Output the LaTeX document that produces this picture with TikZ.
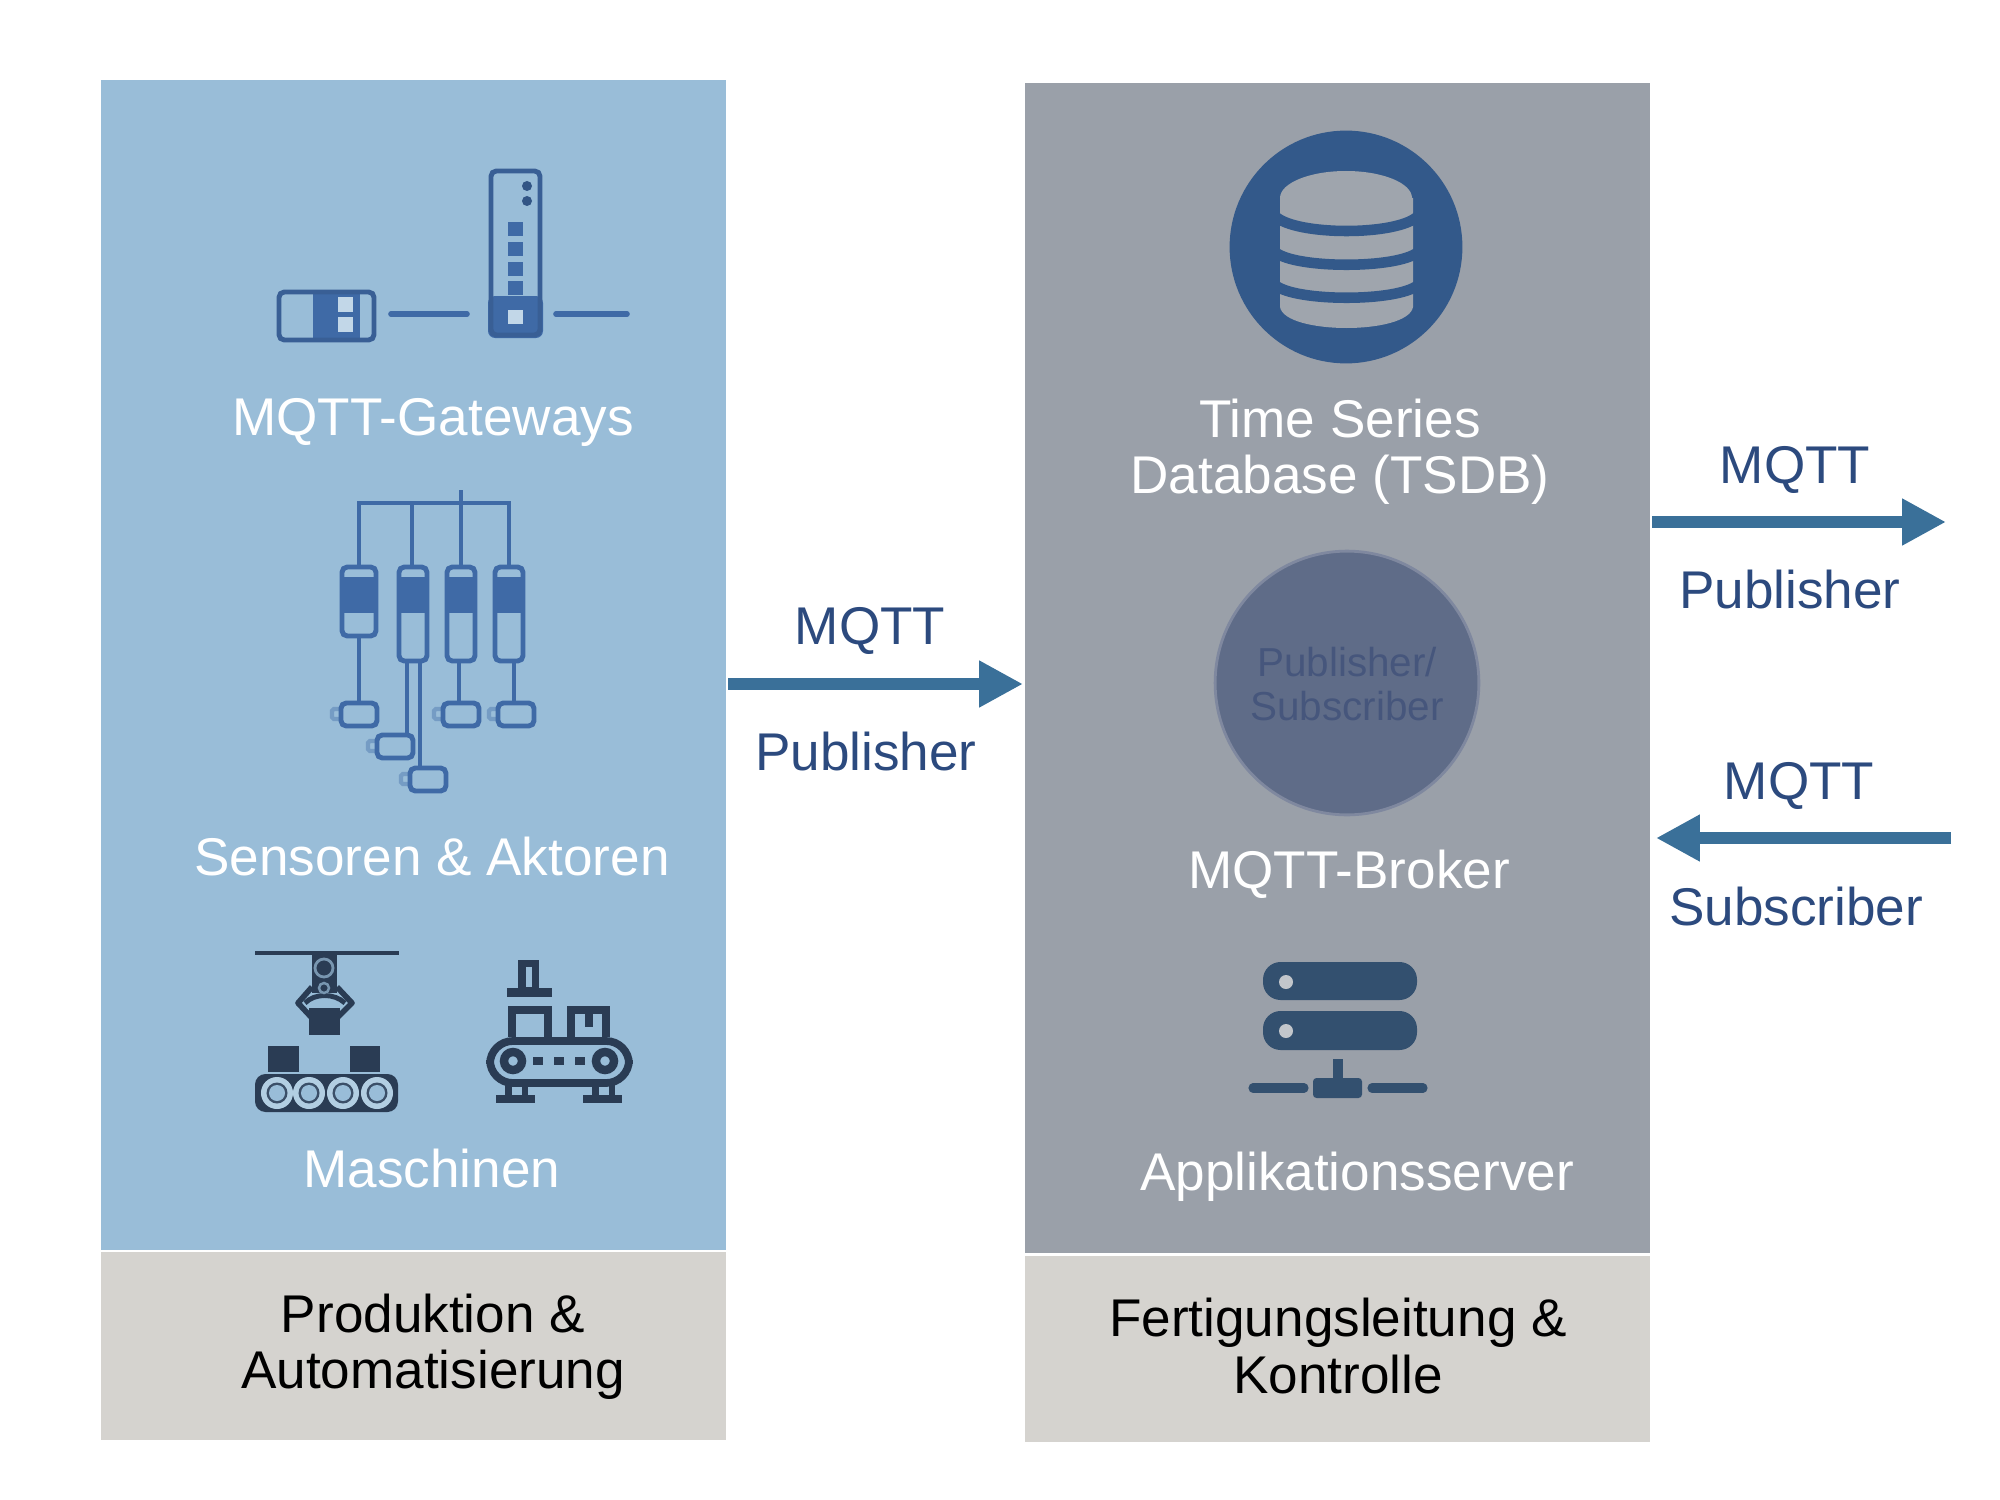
\documentclass[tikz,border=0pt]{standalone}
\usepackage{fontspec}
\setmainfont{Liberation Sans}
\usepackage{xcolor}
\usepackage{tikz}
\usetikzlibrary{arrows.meta}
\usetikzlibrary{positioning}
\definecolor{panelblue}{HTML}{99BDD8}
\definecolor{panelgrey}{HTML}{9AA0A9}
\definecolor{footgrey}{HTML}{D5D3CF}
\definecolor{iconblue}{HTML}{3F6AA6}
\definecolor{icondark}{HTML}{2A3C54}
\definecolor{dbblue}{HTML}{33598A}
\definecolor{srvblue}{HTML}{33506F}
\definecolor{brokerfill}{HTML}{5F6C88}
\definecolor{brokerline}{HTML}{7F889F}
\definecolor{brokertext}{HTML}{46567C}
\definecolor{labelblue}{HTML}{2C4A7E}
\definecolor{arrowblue}{HTML}{3A7099}
\tikzset{>=latex}
\tikzstyle{whitetext} = [text=white, align=center, inner sep=0pt, font=\fontsize{15.1}{16}\selectfont]
\tikzstyle{blacktext} = [text=black, align=center, inner sep=0pt, font=\fontsize{15.1}{16}\selectfont]
\tikzstyle{bluetext} = [text=labelblue, align=center, inner sep=0pt, font=\fontsize{15.1}{16}\selectfont]
\tikzstyle{mqttarrow} = [draw=arrowblue, line width=3.6pt, -{Triangle[length=12.5pt, width=12.5pt, fill=arrowblue]}]
\tikzstyle{iconline} = [draw=iconblue, line width=1.4pt, rounded corners=1.5pt]
\begin{document}
\begin{tikzpicture}[x=.01cm, y=-.01cm]
\useasboundingbox (0, 0) rectangle (2000, 1500);
% panels
\fill [panelblue] (101, 80) rectangle (726, 1250);
\fill [footgrey] (101, 1252) rectangle (726, 1440);
\fill [panelgrey] (1025, 83) rectangle (1650, 1253);
\fill [footgrey] (1025, 1256) rectangle (1650, 1442);
% gateways
\fill [iconblue] (313, 292) rectangle (360, 340);
\fill [panelblue!60!white] (338, 297) rectangle (353, 312);
\fill [panelblue!60!white] (338, 317) rectangle (353, 332);
\draw [iconline, draw=iconblue!90!black] (279, 292) rectangle (374, 340);
\draw [iconline, line cap=round, line width=1.6pt] (391, 314) -- (467, 314);
\fill [iconblue, rounded corners=2pt] (488, 296) rectangle (543, 338);
\fill [panelblue!60!white] (508, 310) rectangle (523, 324);
\draw [iconline, draw=iconblue!90!black] (491, 171) rectangle (540, 335);
\fill [iconblue!80!black] (527, 186) circle [radius=.05cm];
\fill [iconblue!80!black] (527, 201) circle [radius=.05cm];
\foreach \y in {222, 242, 262, 281} {
  \fill [iconblue] (508, \y) rectangle (523, \y+14);
}
\draw [iconline, line cap=round, line width=1.6pt] (556, 314) -- (627, 314);
% sensors and actuators
\draw [iconline, rounded corners=0pt] (359, 565) -- (359, 503) -- (509, 503) -- (509, 565);
\draw [iconline] (412, 503) -- (412, 565);
\draw [iconline] (461, 490) -- (461, 565);
\foreach \xa/\xb/\yb in {342/376/636, 399/427/661, 447/475/661, 495/523/661} {
  \fill [iconblue] (\xa, 577) rectangle (\xb, 613);
  \draw [iconline] (\xa, 567) rectangle (\xb, \yb);
}
\draw [iconline] (359, 636) -- (359, 702);
\draw [iconline] (407, 661) -- (407, 734);
\draw [iconline] (420, 661) -- (420, 767);
\draw [iconline] (459, 661) -- (459, 702);
\draw [iconline] (514, 661) -- (514, 702);
\foreach \xa/\ya in {341/703, 377/735, 410/768, 443/703, 498/703} {
  \draw [draw=panelblue!60!iconblue, line width=1.2pt, rounded corners=.5pt] (\xa-1, \ya+6) -- (\xa-9, \ya+6) -- (\xa-9, \ya+16) -- (\xa-1, \ya+16);
  \draw [iconline] (\xa, \ya) rectangle (\xa+36, \ya+23);
}
% gripper machine
\draw [draw=icondark, line width=1.2pt] (255, 953) -- (399, 953);
\fill [icondark] (312, 953) rectangle (337, 993);
\draw [draw=icondark, line width=1.6pt, line join=round] (312, 987) -- (298, 1003) -- (312, 1018);
\draw [draw=icondark, line width=1.6pt, line join=round] (337, 987) -- (352, 1003) -- (337, 1018);
\draw [draw=icondark, line width=1.4pt] (305, 1003) .. controls (315, 993) and (334, 993) .. (345, 1003);
\draw [draw=panelblue!70!icondark, line width=.8pt] (324, 968) circle [radius=.09cm];
\draw [draw=panelblue!70!icondark, line width=.7pt] (324, 988) circle [radius=.05cm];
\fill [icondark] (309, 1008) rectangle (340, 1035);
\fill [icondark] (268, 1046) rectangle (299, 1072);
\fill [icondark] (350, 1046) rectangle (380, 1072);
\fill [icondark, rounded corners=3pt] (255, 1074) rectangle (398, 1112);
\foreach \x in {277, 309, 343, 377} {
  \fill [panelblue!75!white] (\x, 1093) circle [radius=.16cm];
  \fill [icondark!85!panelblue] (\x, 1093) circle [radius=.105cm];
  \fill [panelblue] (\x, 1093) circle [radius=.08cm];
}
% conveyor machine
\fill [icondark] (518, 960) rectangle (539, 990);
\fill [panelblue] (526, 967) rectangle (532, 987);
\fill [icondark] (507, 988) rectangle (552, 997);
\draw [draw=icondark, line width=2.2pt] (512, 1037) -- (512, 1010) -- (548, 1010) -- (548, 1037);
\draw [draw=icondark, line width=2.2pt] (571, 1037) -- (571, 1010) -- (606, 1010) -- (606, 1037);
\fill [icondark] (585, 1010) rectangle (593, 1027);
\draw [draw=icondark, line width=2.2pt, rounded corners=6.5pt] (490, 1041) rectangle (629, 1083);
\foreach \x in {513, 605} {
  \draw [draw=icondark, line width=2.4pt] (\x, 1061) circle [radius=.09cm];
}
\foreach \x in {538, 559, 580} {
  \fill [icondark] (\x-5, 1057) rectangle (\x+5, 1065);
}
\foreach \x in {496, 583} {
  \fill [icondark] (\x, 1095) rectangle (\x+39, 1103);
  \fill [icondark] (\x+9, 1085) rectangle (\x+16, 1096);
  \fill [icondark] (\x+26, 1085) rectangle (\x+32, 1096);
}
% database
\node [circle, fill=dbblue, draw=none, minimum size=66.2pt, inner sep=0pt] (DB) at (1346, 247) {};
\fill [panelgrey!95!white] (1280, 198) -- (1280, 307) .. controls (1285, 335) and (1408, 335) .. (1413, 307) -- (1413, 198) -- cycle;
\fill [panelgrey!95!white] (1346, 198) ellipse [x radius=66, y radius=27];
\foreach \ys/\ym in {216/231, 252/264, 285/297} {
  \draw [draw=dbblue, line width=3pt] (1275, \ys) .. controls (1295, \ym+5) and (1398, \ym+5) .. (1418, \ys);
}
% server
\fill [srvblue, rounded corners=5pt] (1263, 962) rectangle (1417, 1000);
\fill [srvblue, rounded corners=5pt] (1263, 1011) rectangle (1417, 1050);
\fill [panelgrey!60!white] (1286, 982) circle [radius=.07cm];
\fill [panelgrey!60!white] (1286, 1031) circle [radius=.07cm];
\fill [srvblue] (1333, 1059) rectangle (1343, 1080);
\fill [srvblue, rounded corners=1pt] (1313, 1078) rectangle (1362, 1098);
\draw [draw=srvblue, line width=2.6pt, line cap=round] (1253, 1088) -- (1304, 1088);
\draw [draw=srvblue, line width=2.6pt, line cap=round] (1372, 1088) -- (1423, 1088);
% broker
\node [circle, fill=brokerfill, draw=brokerline, line width=.8pt, minimum size=75pt, inner sep=0pt] (broker) at (1347, 683) {};
\node [text=brokertext, align=center, inner sep=0pt, font=\fontsize{11.5}{12.5}\selectfont] (brokerlabel) at (1347, 684) {Publisher/\\Subscriber};
% labels
\node [whitetext] (gateways) at (433, 422) {MQTT-Gateways};
\node [whitetext] (sensors) at (432, 857) {Sensoren \& Aktoren};
\node [whitetext] (machines) at (432, 1169) {Maschinen};
\node [blacktext] (prod) at (433, 1347) {Produktion \&\\Automatisierung};
\node [whitetext] (tsdb) at (1340, 452) {Time Series\\Database (TSDB)};
\node [whitetext] (mqttbroker) at (1349, 874) {MQTT-Broker};
\node [whitetext] (appserver) at (1357, 1177) {Applikationsserver};
\node [blacktext] (control) at (1338, 1346) {Fertigungsleitung \&\\Kontrolle};
% arrows
\coordinate (pubA) at (728, 684);
\coordinate (pubB) at (1023, 684);
\coordinate (outA) at (1652, 522);
\coordinate (outB) at (1946, 522);
\coordinate (inA) at (1951, 838);
\coordinate (inB) at (1656, 838);
\draw [mqttarrow] (pubA) to (pubB);
\draw [mqttarrow] (outA) to (outB);
\draw [mqttarrow] (inA) to (inB);
\node [bluetext] (mqttA) at (870, 631) {MQTT};
\node [bluetext] (pubtextA) at (866, 752) {Publisher};
\node [bluetext] (mqttB) at (1795, 470) {MQTT};
\node [bluetext] (pubtextB) at (1790, 590) {Publisher};
\node [bluetext] (mqttC) at (1799, 786) {MQTT};
\node [bluetext] (subtext) at (1796, 907) {Subscriber};
\end{tikzpicture}
\end{document}
